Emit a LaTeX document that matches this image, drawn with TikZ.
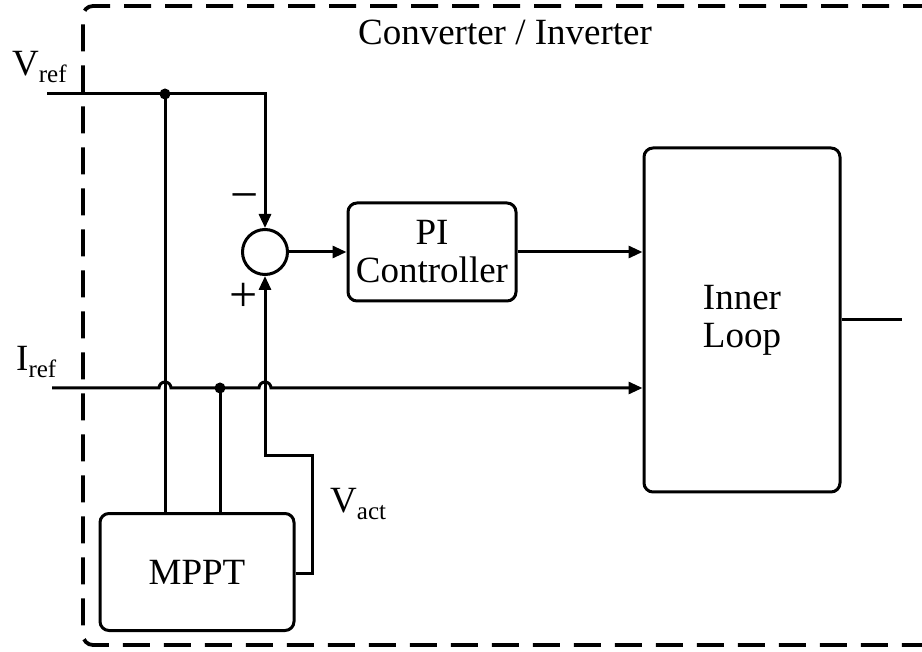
\documentclass[tikz,border=0pt]{standalone}
\usepackage{fontspec}
\setmainfont{Liberation Serif}
\usetikzlibrary{arrows.meta}
\tikzset{
  wire/.style={line width=3pt, line join=miter},
  arr/.style={wire, -{Triangle[length=14pt,width=12pt]}},
  blk/.style={draw, line width=3pt, rounded corners=9pt, align=center, inner sep=0pt},
  txt/.style={font=\fontsize{37}{42}\selectfont, inner sep=0pt},
  sgn/.style={font=\fontsize{50}{50}\selectfont, inner sep=0pt},
  dot/.style={circle, fill, inner sep=0pt, minimum size=11pt},
}
\newcommand{\lsub}[2]{#1\raisebox{-7pt}{\fontsize{25}{25}\selectfont #2}}
\begin{document}
\begin{tikzpicture}[x=1pt,y=-1pt]
\useasboundingbox (0,0) rectangle (922,652);
% dashed enclosure
\draw[line width=3.8pt, dash pattern=on 27pt off 14pt, rounded corners=10pt]
  (930,6) -- (83,6) -- (83,645) -- (930,645);
% title
\node[txt] (title) at (505,32) {Converter / Inverter};
% blocks
\node[draw, circle, line width=3pt, minimum size=45pt, inner sep=0pt] (sum) at (265,252) {};
\node[blk, txt, minimum width=168pt, minimum height=98pt] (pi) at (432,252) {PI\\[-4pt]Controller};
\node[blk, txt, minimum width=196pt, minimum height=344pt] (inner) at (742,320) {Inner\\[-4pt]Loop};
\node[blk, txt, minimum width=194pt, minimum height=117pt] (mppt) at (197,572) {MPPT};
% inputs
\coordinate (vrefin) at (47,94);
\coordinate (irefin) at (52,388);
\coordinate (j1) at (165,94);
\coordinate (j2) at (220,388);
\coordinate (outend) at (902,320);
\coordinate (va1) at (312,573);
\coordinate (va2) at (312,456);
\coordinate (va3) at (265,456);
% labels
\node[txt, anchor=base west] (vreflbl) at (12,76) {\lsub{V}{ref}};
\node[txt, anchor=base west] (ireflbl) at (16,371) {\lsub{I}{ref}};
\node[txt, anchor=base west] (vactlbl) at (330,512) {\lsub{V}{act}};
\node[sgn] (minus) at (245,203) {−};
\node[sgn] (plus) at (244,297) {+};
% connectors
\draw[arr] (vrefin) -| (sum.north);
\draw[wire] (j1) -- (mppt.north -| j1);
\draw[wire] (j2) -- (mppt.north -| j2);
\draw[arr] (irefin) -- (159,388) arc[start angle=180,end angle=0,radius=6pt]
  -- (259,388) arc[start angle=180,end angle=0,radius=6pt]
  -- (inner.west |- irefin);
\draw[arr] (mppt.east |- va1) -- (va1) -- (va2) -- (va3) -- (sum.south);
\draw[arr] (sum.east) -- (pi.west);
\draw[arr] (pi.east) -- (pi.east -| inner.west);
\draw[wire] (inner.east) -- (outend);
\node[dot] at (j1) {};
\node[dot] at (j2) {};
\end{tikzpicture}
\end{document}
